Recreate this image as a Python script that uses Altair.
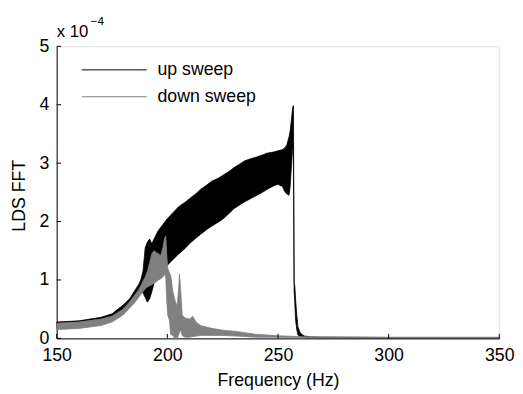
import altair as alt
import pandas as pd

# ---------------- data (values in units of 1e-4) ----------------
series_names = ["up sweep", "down sweep"]

up_freq = [150, 160, 170, 175, 180, 183, 185, 187, 188, 189, 190, 191, 192, 193, 194,
           195, 196, 197, 198, 200, 202, 205, 208, 210, 213, 215, 218, 220, 223, 225,
           228, 230, 233, 235, 238, 240, 243, 245, 248, 250, 252, 253, 254, 255, 255.5,
           256, 256.5, 256.8, 257.0, 257.3, 257.6, 258, 258.5, 259, 260, 261, 262, 265,
           270, 300, 350]
up_hi = [0.28, 0.30, 0.36, 0.42, 0.57, 0.68, 0.80, 0.92, 1.00, 1.15, 1.55, 1.65, 1.70, 1.62, 1.70,
         1.78, 1.85, 1.90, 1.95, 2.05, 2.13, 2.25, 2.33, 2.39, 2.48, 2.55, 2.63, 2.69, 2.74, 2.79,
         2.86, 2.92, 2.99, 3.04, 3.08, 3.10, 3.14, 3.17, 3.19, 3.21, 3.23, 3.26, 3.31, 3.45, 3.55,
         3.72, 3.90, 3.98, 3.98, 0.95, 0.90, 0.65, 0.40, 0.20, 0.10, 0.06, 0.04, 0.025,
         0.02, 0.015, 0.012]
up_lo = [0.18, 0.20, 0.26, 0.32, 0.47, 0.58, 0.68, 0.76, 0.80, 0.78, 0.70, 0.62, 0.68, 0.80, 0.95,
         1.05, 1.10, 1.15, 1.18, 1.25, 1.33, 1.44, 1.54, 1.62, 1.72, 1.78, 1.87, 1.92, 1.99, 2.04,
         2.14, 2.22, 2.29, 2.34, 2.40, 2.44, 2.50, 2.55, 2.61, 2.64, 2.60, 2.52, 2.47, 2.45, 2.60,
         2.90, 3.20, 3.30, 3.00, 0.80, 0.60, 0.30, 0.15, 0.06, 0.03, 0.02, 0.01, 0.01,
         0.008, 0.005, 0.005]

down_freq = [150, 160, 170, 175, 180, 183, 185, 187, 188, 189, 190, 191, 192, 193, 194,
             195, 196, 197, 198, 198.8, 199.3, 199.8, 200.2, 201, 201.5, 202.5, 203.5, 204.4,
             205, 205.5, 206, 206.7, 208, 210, 211.5, 213, 215, 219, 225, 231, 240, 250,
             260, 280, 300, 350]
down_hi = [0.26, 0.28, 0.33, 0.38, 0.50, 0.63, 0.73, 0.83, 0.90, 0.98, 1.05, 1.15, 1.30, 1.45, 1.50,
           1.47, 1.45, 1.42, 1.55, 1.72, 1.75, 1.40, 1.20, 1.12, 1.08, 0.80, 0.65, 0.55,
           0.80, 1.10, 0.85, 0.40, 0.35, 0.33, 0.38, 0.28, 0.22, 0.18, 0.14, 0.12, 0.07, 0.045,
           0.03, 0.025, 0.02, 0.02]
down_lo = [0.15, 0.17, 0.22, 0.28, 0.40, 0.52, 0.60, 0.70, 0.75, 0.80, 0.85, 0.88, 0.90, 0.92, 0.95,
           0.97, 1.00, 1.02, 1.05, 1.10, 1.05, 0.60, 0.40, 0.30, 0.07, 0.05, 0.00, 0.00,
           0.05, 0.10, 0.15, 0.05, 0.02, 0.02, 0.03, 0.04, 0.05, 0.05, 0.05, 0.04, 0.02, 0.02,
           0.01, 0.01, 0.01, 0.01]

x_ticks = [150, 200, 250, 300, 350]
y_ticks = [0, 1, 2, 3, 4, 5]

# ---------------- build ----------------
W, H = 450, 297
FONT = "Liberation Sans"
FS = 18
colors = {"up sweep": "#000000", "down sweep": "#808080"}

up_df = pd.DataFrame({"f": up_freq, "lo": up_lo, "hi": up_hi})
down_df = pd.DataFrame({"f": down_freq, "lo": down_lo, "hi": down_hi})

xscale = alt.Scale(domain=[150, 350], nice=False, zero=False)
yscale = alt.Scale(domain=[0, 5], nice=False)

xax = alt.Axis(values=x_ticks, format="d", ticks=False, grid=False, labelFlush=False,
               labelOverlap=False, domainColor="black", domainWidth=1,
               labelFont=FONT, labelFontSize=FS, labelColor="black", labelPadding=8,
               labelBaseline="top", title="Frequency (Hz)", titleFont=FONT, titleFontSize=FS,
               titleFontWeight="normal", titleColor="black", titleX=W / 2, titleY=47.5,
               titleBaseline="alphabetic", titleAlign="center")
yax = alt.Axis(values=y_ticks, format="d", ticks=False, grid=False, labelFlush=False,
               labelOverlap=False, domainColor="black", domainWidth=1,
               labelFont=FONT, labelFontSize=FS, labelColor="black", labelPadding=8,
               title="LDS FFT", titleFont=FONT, titleFontSize=FS, titleFontWeight="normal",
               titleColor="black", titleX=-38, titleY=H / 2 + 3, titleAlign="center",
               titleBaseline="middle")


def band(df, name):
    c = colors[name]
    return alt.Chart(df).mark_area(color=c, stroke=c, strokeWidth=0.8, opacity=1).encode(
        x=alt.X("f:Q", scale=xscale, axis=xax),
        y=alt.Y("hi:Q", scale=yscale, axis=yax),
        y2="lo:Q",
    )


up_layer = band(up_df, series_names[0])
down_layer = band(down_df, series_names[1])

xt = alt.Chart(pd.DataFrame({"t": x_ticks})).mark_rule(color="black", strokeWidth=1).encode(
    x=alt.X("t:Q", scale=xscale), y=alt.value(H), y2=alt.value(H - 4.5))
yt = alt.Chart(pd.DataFrame({"t": y_ticks})).mark_rule(color="black", strokeWidth=1).encode(
    y=alt.Y("t:Q", scale=yscale), x=alt.value(0), x2=alt.value(4.5))

leg_df = pd.DataFrame({"name": series_names, "ypos": [24.0, 51.3]})
leg_lines = alt.Chart(leg_df).mark_rule(strokeWidth=1).encode(
    x=alt.value(25.5), x2=alt.value(91.5), y=alt.Y("ypos:Q", scale=None),
    color=alt.Color("name:N", scale=alt.Scale(domain=series_names,
                                              range=[colors[n] for n in series_names]),
                    legend=None))
leg_text = alt.Chart(leg_df).mark_text(align="left", baseline="middle", font=FONT,
                                       fontSize=FS, color="black").encode(
    x=alt.value(102.5), y=alt.Y("ypos:Q", scale=None), text="name:N")

exp_main = alt.Chart(pd.DataFrame({"t": ["x 10"]})).mark_text(
    align="left", baseline="alphabetic", font=FONT, fontSize=FS - 1, color="black").encode(
    x=alt.value(0), y=alt.value(-9.5), text="t:N")
exp_sup = alt.Chart(pd.DataFrame({"t": ["\u22124"]})).mark_text(
    align="left", baseline="alphabetic", font=FONT, fontSize=12, color="black").encode(
    x=alt.value(34.5), y=alt.value(-22), text="t:N")

chart = alt.layer(up_layer, down_layer, xt, yt, leg_lines, leg_text, exp_main, exp_sup).properties(
    width=W, height=H,
    autosize=alt.AutoSizeParams(type="none"),
    padding={"left": 49.5, "top": 35.7, "right": 16, "bottom": 53},
).configure_view(stroke=None).configure(background="white")

chart.save("out.html", embed_options={"renderer": "svg", "actions": False})
